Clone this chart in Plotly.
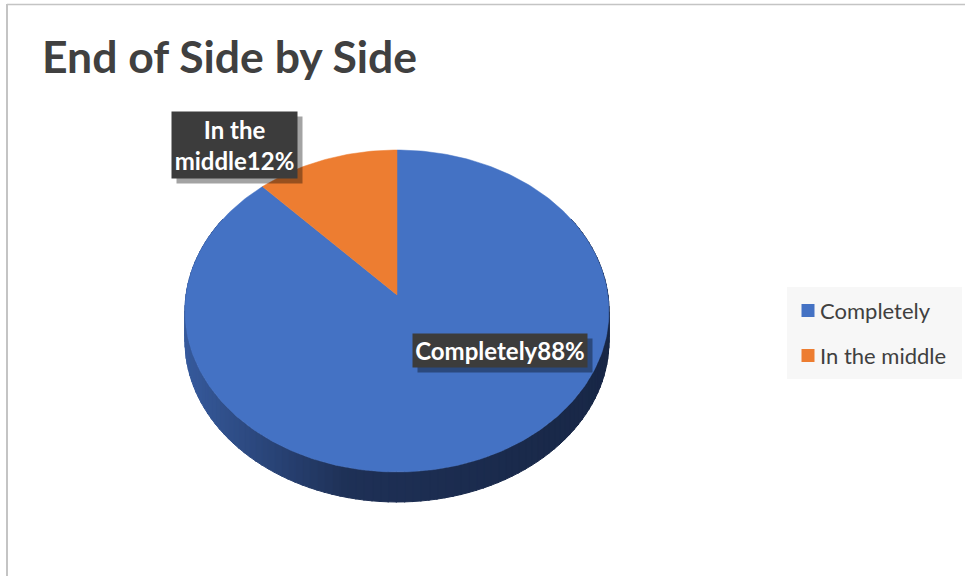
import math
import plotly.graph_objects as go

# Chart data
title_text = "End of Side by Side"
categories = ["Completely", "In the middle"]
values = [88, 12]
label_texts = ["Completely88%", "In the<br>middle12%"]

top_colors = ["#4472C4", "#ED7D31"]
# side shading stops (left -> right) for each slice
side_shades = [
    [(0.0, (54, 90, 156)), (0.38, (30, 48, 86)), (1.0, (24, 39, 70))],
    [(0.0, (190, 100, 40)), (0.38, (120, 62, 24)), (1.0, (100, 52, 20))],
]

W, H = 965, 576
# 3-D pie geometry (pixel space)
CX, CY = 397.0, 311.0     # centre of the top-face ellipse
RX, RY = 212.0, 161.0     # semi-axes of the top face
TILT = -0.10              # perspective shift of the pie centre
DEPTH = 30.0              # thickness of the pie
FONT = "Lato"


def rim(theta_deg):
    """Project a point of the unit pie rim (clockwise from 12 o'clock)."""
    th = math.radians(theta_deg)
    u, v = math.sin(th), -math.cos(th)
    w = 1.0 + TILT * v
    x = CX + RX * math.sqrt(1 - TILT ** 2) * u / w
    y = CY + RY * (v + TILT) / w
    return x, y


def centre():
    return CX, CY + RY * TILT


def shade(stops, s):
    s = min(max(s, 0.0), 1.0)
    for (s0, c0), (s1, c1) in zip(stops, stops[1:]):
        if s <= s1:
            f = (s - s0) / (s1 - s0)
            c = [round(a + (b - a) * f) for a, b in zip(c0, c1)]
            return "rgb({},{},{})".format(*c)
    return "rgb({},{},{})".format(*stops[-1][1])


total = float(sum(values))
bounds = []
acc = 0.0
for v in values:
    a0 = acc / total * 360.0
    acc += v
    a1 = acc / total * 360.0
    bounds.append((a0, a1))

fig = go.Figure()

# visible side wall (front part of the rim), drawn as thin shaded strips
STEP = 2.0
for i, (a0, a1) in enumerate(bounds):
    lo, hi = max(a0, 60.0), min(a1, 300.0)
    if hi <= lo:
        continue
    n = max(1, int(math.ceil((hi - lo) / STEP)))
    for k in range(n):
        t0 = lo + (hi - lo) * k / n
        t1 = lo + (hi - lo) * (k + 1) / n + 0.3
        t1 = min(t1, hi)
        x0, y0 = rim(t0)
        x1, y1 = rim(t1)
        col = shade(side_shades[i], ((x0 + x1) / 2 - (CX - RX)) / (2 * RX))
        fig.add_trace(go.Scatter(
            x=[x0, x1, x1, x0, x0],
            y=[y0, y1, y1 + DEPTH, y0 + DEPTH, y0],
            mode="lines", fill="toself", fillcolor=col,
            line=dict(color=col, width=1),
            hoverinfo="skip", showlegend=False))

# top faces of the slices
for i, (a0, a1) in enumerate(bounds):
    n = max(2, int((a1 - a0) / 1.0))
    px, py = [], []
    cx0, cy0 = centre()
    px.append(cx0)
    py.append(cy0)
    for k in range(n + 1):
        x, y = rim(a0 + (a1 - a0) * k / n)
        px.append(x)
        py.append(y)
    px.append(cx0)
    py.append(cy0)
    fig.add_trace(go.Scatter(
        x=px, y=py, mode="lines", fill="toself",
        fillcolor=top_colors[i], line=dict(color=top_colors[i], width=0.5),
        name=categories[i], hoverinfo="name", showlegend=False))

# data labels: (centre x, centre y, box width, box height)
label_boxes = [(499.5, 350.5, 174, 33), (234.5, 145.0, 125, 66)]
annotations = []
for (lx, ly, bw, bh), txt in zip(label_boxes, label_texts):
    annotations.append(dict(
        x=lx + 5, y=ly + 5, xref="x", yref="y", text="", showarrow=False,
        width=bw, height=bh, bgcolor="rgba(0,0,0,0.36)", borderpad=0))
    annotations.append(dict(
        x=lx, y=ly, xref="x", yref="y", text="<b>" + txt + "</b>",
        showarrow=False, width=bw, height=bh, bgcolor="#3C3C3C",
        borderpad=0, align="center", valign="middle",
        font=dict(family=FONT, size=24, color="white")))

# legend
leg_x0, leg_y0, leg_x1, leg_y1 = 787, 287, 962, 379
key_y = [310.5, 355.5]
shapes = [
    dict(type="rect", xref="x", yref="y", x0=leg_x0, y0=leg_y0,
         x1=leg_x1, y1=leg_y1, fillcolor="#F7F7F7", line=dict(width=0),
         layer="below"),
    # chart frame
    dict(type="line", xref="x", yref="y", x0=7, y0=4.5, x1=W + 5, y1=4.5,
         line=dict(color="#C4C4C4", width=1.5)),
    dict(type="line", xref="x", yref="y", x0=7, y0=4, x1=7, y1=H + 5,
         line=dict(color="#C4C4C4", width=2)),
]
for i, cat in enumerate(categories):
    shapes.append(dict(type="rect", xref="x", yref="y",
                       x0=801.5, y0=key_y[i] - 6.5, x1=814.5, y1=key_y[i] + 6.5,
                       fillcolor=top_colors[i], line=dict(width=0)))
    annotations.append(dict(
        x=818, y=key_y[i], xref="x", yref="y", text=cat, showarrow=False,
        xanchor="left", yanchor="middle",
        font=dict(family=FONT, size=22, color="#404040")))

# title
annotations.append(dict(
    x=40, y=55, xref="x", yref="y", text="<b>" + title_text + "</b>",
    showarrow=False, xanchor="left", yanchor="middle",
    font=dict(family=FONT, size=44.5, color="#404040")))

fig.update_layout(
    width=W, height=H,
    margin=dict(l=0, r=0, t=0, b=0),
    paper_bgcolor="white", plot_bgcolor="white",
    xaxis=dict(range=[0, W], visible=False, fixedrange=True),
    yaxis=dict(range=[H, 0], visible=False, fixedrange=True),
    shapes=shapes, annotations=annotations,
    showlegend=False,
)

fig.write_html("out.html")
